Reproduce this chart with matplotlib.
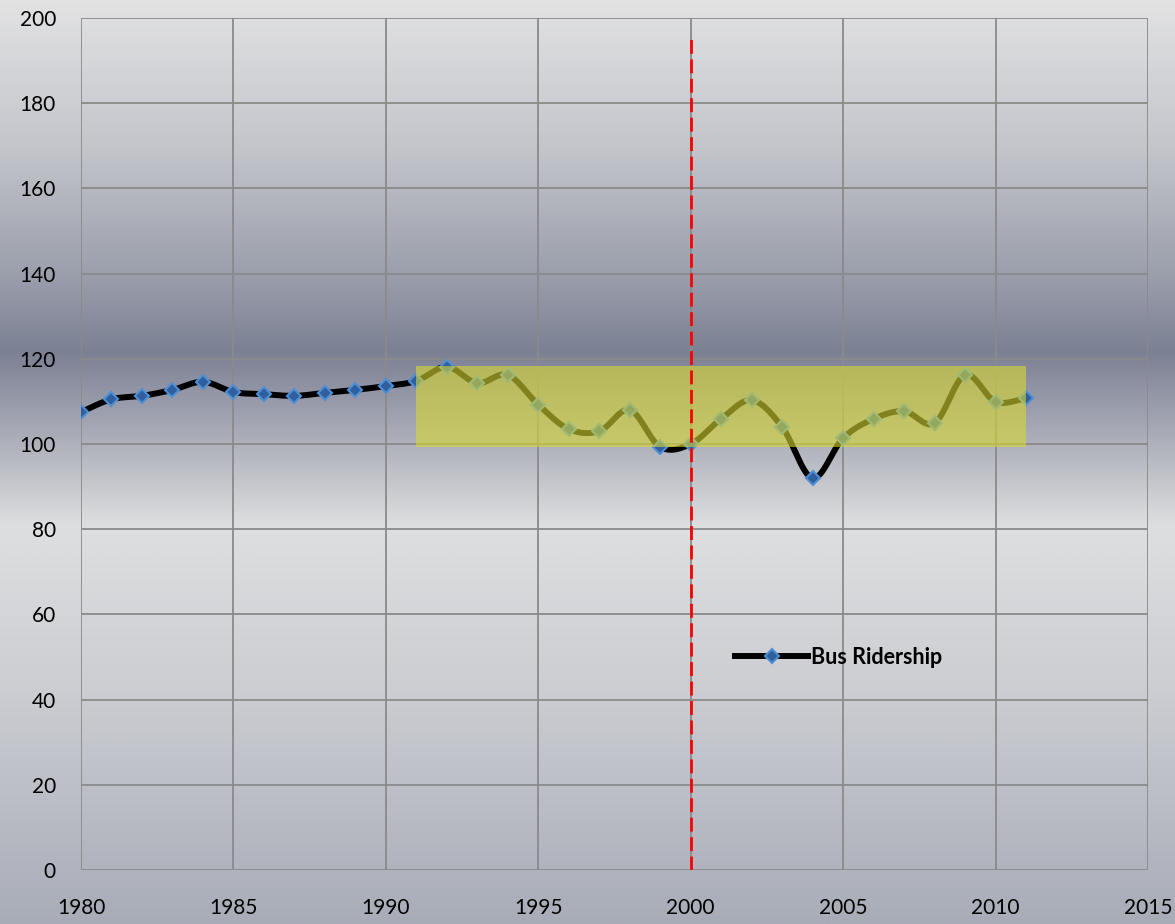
import numpy as np
import matplotlib
matplotlib.use("Agg")
import matplotlib.pyplot as plt
from matplotlib.colors import LinearSegmentedColormap

plt.rcParams['font.family'] = ['Lato', 'DejaVu Sans']

years = list(range(1980, 2012))
ridership = [107.5, 110.5, 111.3, 112.7, 114.6, 112.2, 111.7, 111.3, 112.0, 112.7,
             113.6, 114.8, 118.1, 114.3, 116.2, 109.2, 103.5, 103.0, 108.0, 99.3,
             100.0, 105.9, 110.3, 104.0, 92.0, 101.4, 105.9, 107.7, 104.9, 116.2,
             109.9, 110.8]
series_label = "Bus Ridership"
band_years = (1991, 2011)
band_range = (99.3, 118.3)
marker_year = 2000
x_ticks = list(range(1980, 2016, 5))
y_ticks = list(range(0, 201, 20))


def smooth_curve(x, y, steps=24):
    """Catmull-Rom spline through the points (like a spreadsheet's smoothed line)."""
    x = np.asarray(x, float)
    y = np.asarray(y, float)
    px = np.concatenate([[x[0]], x, [x[-1]]])
    py = np.concatenate([[y[0]], y, [y[-1]]])
    xs, ys = [], []
    t = np.linspace(0, 1, steps, endpoint=False)
    for i in range(1, len(px) - 2):
        p0x, p1x, p2x, p3x = px[i - 1:i + 3]
        p0y, p1y, p2y, p3y = py[i - 1:i + 3]
        m1x, m2x = (p2x - p0x) / 2, (p3x - p1x) / 2
        m1y, m2y = (p2y - p0y) / 2, (p3y - p1y) / 2
        h00 = 2 * t**3 - 3 * t**2 + 1
        h10 = t**3 - 2 * t**2 + t
        h01 = -2 * t**3 + 3 * t**2
        h11 = t**3 - t**2
        xs.append(h00 * p1x + h10 * m1x + h01 * p2x + h11 * m2x)
        ys.append(h00 * p1y + h10 * m1y + h01 * p2y + h11 * m2y)
    xs.append([x[-1]])
    ys.append([y[-1]])
    return np.concatenate(xs), np.concatenate(ys)


fig = plt.figure(figsize=(11.75, 9.24), dpi=100)

# Metallic vertical gradient behind everything
bg = fig.add_axes([0, 0, 1, 1], zorder=-10)
stops = [(0.0, '#e2e2e3'), (0.16, '#c3c5cb'), (0.30, '#9a9eab'), (0.38, '#7b8093'),
         (0.47, '#a9acb7'), (0.57, '#dedfe0'), (0.75, '#cbcdd2'), (1.0, '#a8acb7')]
cmap = LinearSegmentedColormap.from_list('bg', stops)
grad = np.linspace(0, 1, 512).reshape(-1, 1)
bg.imshow(grad, aspect='auto', cmap=cmap, extent=[0, 1, 0, 1], origin='upper')
bg.set_axis_off()

ax = fig.add_axes([81 / 1175, 1 - 870 / 924, (1148 - 81) / 1175, (870 - 18) / 924])
ax.set_facecolor('none')
ax.set_xlim(1980, 2015)
ax.set_ylim(0, 200)
ax.set_xticks(x_ticks)
ax.set_yticks(y_ticks)
ax.grid(True, color='#8a8a8a', linewidth=1.3)
ax.set_axisbelow(True)
for s in ax.spines.values():
    s.set_visible(False)
ax.tick_params(axis='both', length=0, labelsize=15, colors='black')
ax.tick_params(axis='y', pad=18)
ax.tick_params(axis='x', pad=20)

sx, sy = smooth_curve(years, ridership)
ax.plot(sx, sy, color='black', linewidth=4.3, solid_capstyle='round', zorder=3)
ax.plot(years, ridership, linestyle='none', marker='D', markersize=7,
        markerfacecolor='#2f5f9e', markeredgecolor='#4f8fd6', markeredgewidth=1.5, zorder=4)

# Highlighted band over the later period
ax.fill_between(list(band_years), band_range[0], band_range[1], color='#d8d832',
                alpha=0.6, linewidth=0, zorder=5)

ax.plot([marker_year, marker_year], [0, 196], color='#ff0000', linewidth=2,
        linestyle=(0, (5, 2)), zorder=6)

handle, = ax.plot([], [], color='black', linewidth=4.3, marker='D', markersize=7,
                  markerfacecolor='#2f5f9e', markeredgecolor='#4f8fd6', markeredgewidth=1.5,
                  label=series_label)
ax.legend(handles=[handle], loc='center left',
          bbox_to_anchor=((735 - 81) / 1067, (870 - 657) / 852),
          frameon=False, borderpad=0, borderaxespad=0, handlelength=3.4,
          handletextpad=0.12, prop={'weight': 'bold', 'size': 15.5})

fig.savefig('out.png', dpi=100)
